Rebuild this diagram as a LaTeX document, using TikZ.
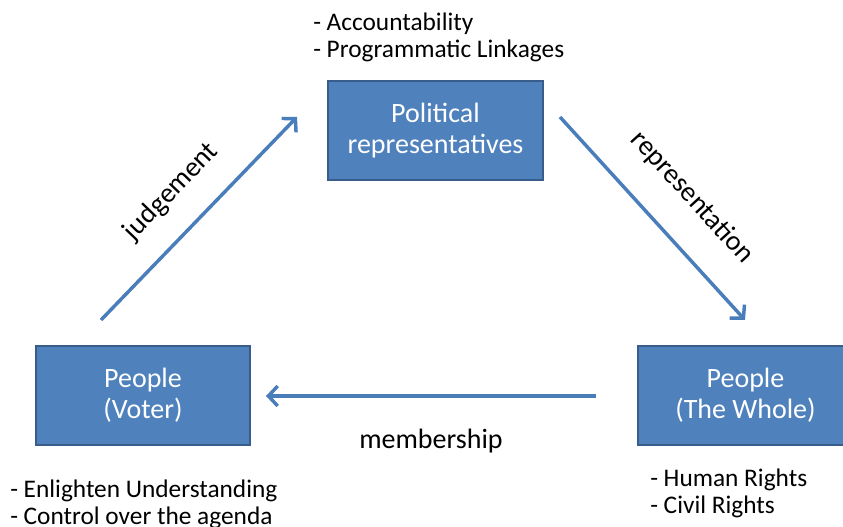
\documentclass[tikz,border=0pt]{standalone}
\usepackage{fontspec}
\setmainfont{Carlito}
\usepackage{xcolor}
\usepackage{tikz}
\definecolor{boxblue}{HTML}{4F81BD}
\definecolor{boxline}{HTML}{385D8A}
\definecolor{arrowblue}{HTML}{4A7EBB}
\tikzstyle{block} = [rectangle, draw=boxline, fill=boxblue, line width=1.5pt,
    text=white, align=center, minimum width=161pt, minimum height=74pt,
    font=\fontsize{21}{23.5}\selectfont]
\tikzstyle{flow} = [draw=arrowblue, line width=2.6pt,
    -{Straight Barb[length=7pt,width=15pt]}]
\tikzstyle{note} = [align=left, anchor=north west, inner sep=0pt,
    font=\fontsize{19}{20.5}\selectfont]
\tikzstyle{tag} = [font=\fontsize{21}{23}\selectfont]
\usetikzlibrary{arrows.meta}
\usetikzlibrary{positioning}

\begin{document}
\begin{tikzpicture}[x=0.75pt,y=-0.75pt]
    \useasboundingbox (0,0) rectangle (843,527);

    \node[block] (polrep) at (435.5,130.5) {Political\\representatives};
    \node[block] (voter) at (143,395.5) {People\\(Voter)};
    \node[block] (whole) at (745.5,395.5) {People\\(The Whole)};

    \node[note] (duties) at (313,12.5) {- Accountability\\- Programmatic Linkages};
    \node[note] (needs) at (10,479.5) {- Enlighten Understanding\\- Control over the agenda};
    \node[note] (rights) at (650,468.5) {- Human Rights\\- Civil Rights};

    \coordinate (judge0) at (101,320);
    \coordinate (judge1) at (297,117);
    \coordinate (repr0) at (560,117);
    \coordinate (repr1) at (745,320);
    \coordinate (memb0) at (596,396);
    \coordinate (memb1) at (266,396);

    \draw[flow] (judge0) -- node[tag, sloped, above=15pt] (judge) {judgement} (judge1);
    \draw[flow] (repr0) -- node[tag, sloped, above=19pt, pos=0.54] (repr) {representation} (repr1);
    \draw[flow] (memb0) -- node[tag, below=20pt] (memb) {membership} (memb1);
  \end{tikzpicture}
\end{document}
